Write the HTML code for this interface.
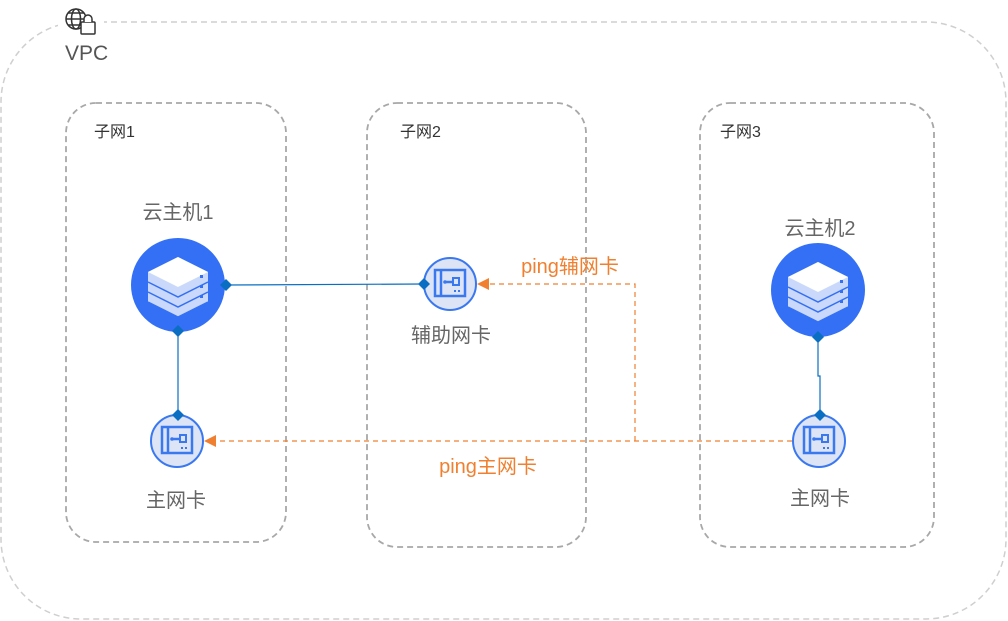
<!DOCTYPE html>
<html><head><meta charset="utf-8"><style>
html,body{margin:0;padding:0;background:#fff;}
svg{display:block;font-family:"Liberation Sans","Noto Sans CJK SC",sans-serif;}
</style></head><body>
<svg width="1008" height="621" viewBox="0 0 1008 621" xmlns="http://www.w3.org/2000/svg">
<defs>
<g id="srv">
  <circle r="47" fill="#3370f5"/>
  <polygon points="-30,7 0,-8 30,7 30,17 0,32 -30,17" fill="#c9d8fb"/>
  <polyline points="-30,17 0,32 30,17" fill="none" stroke="#3370f5" stroke-width="1.5"/>
  <polygon points="-30,-3 0,-18 30,-3 30,7 0,22 -30,7" fill="#c9d8fb"/>
  <polyline points="-30,7 0,22 30,7" fill="none" stroke="#3370f5" stroke-width="1.5"/>
  <polygon points="-30,-13 0,-28 30,-13 30,-3 0,12 -30,-3" fill="#c9d8fb"/>
  <polygon points="-30,-13 0,-28 30,-13 0,2" fill="#fff"/>
  <polyline points="-30,-3 0,12 30,-3" fill="none" stroke="#3370f5" stroke-width="1.5"/>
  <rect x="22" y="-10" width="3" height="3" fill="#3370f5"/>
  <rect x="22" y="0" width="3" height="3" fill="#3370f5"/>
  <rect x="22" y="10" width="3" height="3" fill="#3370f5"/>
</g>
<g id="nic">
  <circle r="26" fill="#dce4f5" stroke="#3a78f0" stroke-width="2"/>
  <rect x="-15" y="-14" width="30" height="26" fill="none" stroke="#3a78f0" stroke-width="2.5"/>
  <line x1="-9" y1="-14" x2="-9" y2="12" stroke="#3a78f0" stroke-width="2.5"/>
  <line x1="-5" y1="-2" x2="3" y2="-2" stroke="#3a78f0" stroke-width="2.5"/>
  <circle cx="-5" cy="-2" r="1.8" fill="#3a78f0"/>
  <rect x="3" y="-6" width="6" height="7" fill="none" stroke="#3a78f0" stroke-width="2"/>
  <line x1="4" y1="7" x2="10" y2="7" stroke="#3a78f0" stroke-width="2" stroke-dasharray="2 2"/>
</g>
<g id="dia"><polygon points="0,-6 6,0 0,6 -6,0" fill="#0a6fc2"/></g>
</defs>

<rect x="1" y="22" width="1005" height="597" rx="80" fill="none" stroke="#cfcfcf" stroke-width="1.5" stroke-dasharray="6 4"/>
<rect x="58" y="5" width="46" height="34" fill="#fff"/>
<g fill="none" stroke="#333" stroke-width="1.5">
  <circle cx="76" cy="19" r="10"/>
  <ellipse cx="76" cy="19" rx="4.5" ry="10"/>
  <line x1="66" y1="19" x2="86" y2="19"/>
  <line x1="68" y1="13" x2="84" y2="13"/>
  <line x1="68" y1="25" x2="84" y2="25"/>
</g>
<rect x="81" y="22" width="14" height="12" fill="#fff" stroke="#333" stroke-width="1.5" rx="1"/>
<path d="M84 22 v-3 a4 4 0 0 1 8 0 v3" fill="#fff" stroke="#333" stroke-width="1.5"/>
<text x="65" y="60" font-size="21" fill="#555">VPC</text>

<g fill="none" stroke="#a8a8a8" stroke-width="1.8" stroke-dasharray="6 4">
<rect x="66" y="103" width="220" height="439" rx="30"/>
<rect x="367" y="103" width="219" height="444" rx="30"/>
<rect x="700" y="103" width="234" height="444" rx="30"/>
</g>
<g font-size="16" fill="#333">
<text x="94" y="137">子网1</text>
<text x="400" y="137">子网2</text>
<text x="720" y="137">子网3</text>
</g>

<g stroke="#0a6fc2" stroke-width="1.2" fill="none">
<line x1="226" y1="285" x2="423" y2="284"/>
<line x1="178" y1="331" x2="178" y2="415"/>
<polyline points="818,337 818,376 820,376 820,415"/>
</g>

<g stroke="#f08030" stroke-width="1.2" fill="none" stroke-dasharray="5 4">
<line x1="792" y1="441" x2="215" y2="441"/>
<polyline points="635,441 635,284 488,284"/>
</g>
<polygon points="204,441 216,435 216,447" fill="#f08030"/>
<polygon points="477,284 489,278 489,290" fill="#f08030"/>

<use href="#srv" x="178" y="285"/>
<use href="#srv" x="818" y="290"/>
<use href="#nic" x="177" y="441"/>
<use href="#nic" x="450" y="284"/>
<use href="#nic" x="819" y="441"/>

<use href="#dia" x="226" y="285"/>
<use href="#dia" x="424" y="284"/>
<use href="#dia" x="178" y="331"/>
<use href="#dia" x="178" y="415"/>
<use href="#dia" x="818" y="337"/>
<use href="#dia" x="820" y="415"/>

<g font-size="20" fill="#666" text-anchor="middle">
<text x="178" y="219">云主机1</text>
<text x="820" y="235">云主机2</text>
<text x="451" y="342">辅助网卡</text>
<text x="176" y="507">主网卡</text>
<text x="820" y="505">主网卡</text>
</g>
<g font-size="20" fill="#f08030" text-anchor="middle">
<text x="570" y="273">ping辅网卡</text>
<text x="488" y="473">ping主网卡</text>
</g>
</svg>
</body></html>
